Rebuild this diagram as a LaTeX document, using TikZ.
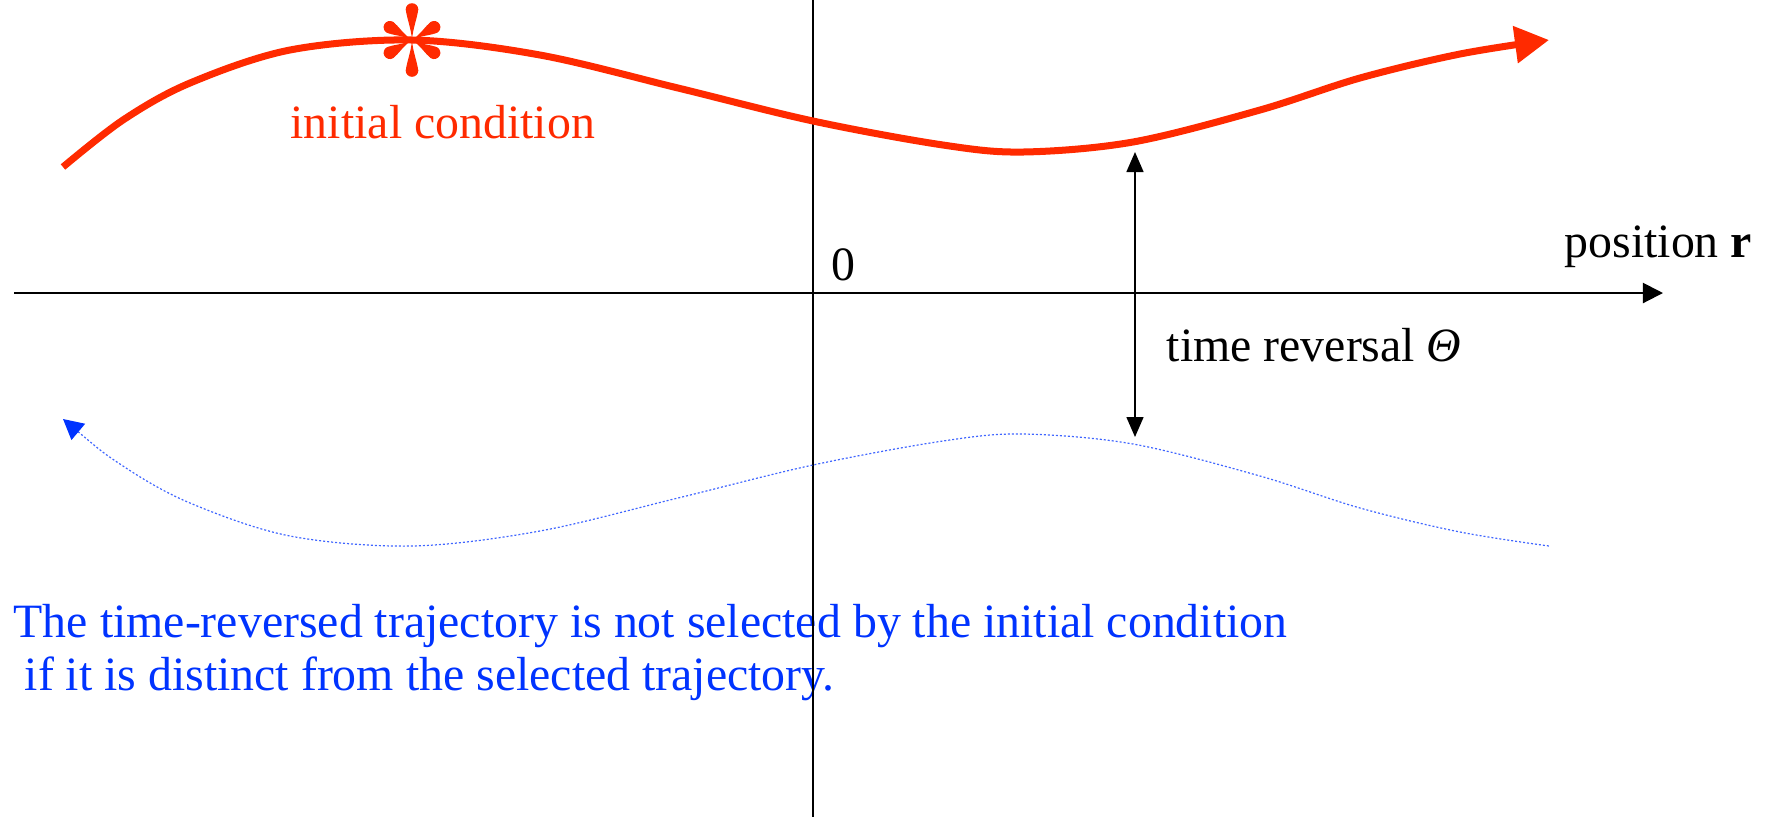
\documentclass[tikz,border=0pt]{standalone}
\usepackage{fontspec}
\setmainfont{Liberation Serif}
\usetikzlibrary{arrows.meta}
\definecolor{trajred}{RGB}{255,42,0}
\definecolor{trajblue}{RGB}{0,51,255}
\begin{document}
\begin{tikzpicture}[x=0.01cm,y=-0.01cm,
  lbl/.style={inner sep=0pt, anchor=base west, font=\fontsize{13.6}{16}\selectfont},
  axisline/.style={line width=0.02cm, black},
  axistip/.style={-{Triangle[length=0.2cm,width=0.2cm]}},
  redtraj/.style={line width=0.07cm, trajred, -{Triangle[length=0.34cm,width=0.36cm]}},
  bluetraj/.style={line width=0.012cm, trajblue!75, dash pattern=on 0.02cm off 0.02cm,
     {Triangle[length=0.2cm,width=0.21cm,fill=trajblue,color=trajblue]}-},
  revarrow/.style={line width=0.015cm, black,
     {Triangle[length=0.2cm,width=0.17cm]}-{Triangle[length=0.2cm,width=0.17cm]}}
]
\useasboundingbox (0,0) rectangle (1771,817);

% blue caption (drawn first so the vertical axis lies over it)
\node[lbl, text=trajblue] (cap1) at (13,637) {The time-reversed trajectory is not selected by the initial condition};
\node[lbl, text=trajblue] (cap2) at (24,690) {if it is distinct from the selected trajectory.};

% axes
\coordinate (xl) at (14,293);
\coordinate (xr) at (1663,293);
\coordinate (yt) at (813,0);
\coordinate (yb) at (813,817);
\draw[axisline, axistip] (xl) -- (xr);
\draw[axisline] (yt) -- (yb);

% selected trajectory
\def\trajpts{(63,167) (123,120) (190,83) (290,50) (412,40) (540,55) (678,88) (813,121) (943,145) (1023,152) (1133,142) (1260,110) (1360,78) (1460,54) (1549,40)}
\draw[redtraj] plot[smooth, tension=0.55] coordinates {\trajpts};

% time-reversed trajectory (mirror about the r axis)
\begin{scope}[shift={(0,586)}, yscale=-1]
  \draw[bluetraj] plot[smooth, tension=0.55] coordinates {\trajpts};
\end{scope}

% initial condition asterisk
\coordinate (star) at (412,40);
\foreach \a/\L in {90/37,30/32,-30/32,-90/37,-150/32,150/32}{
  \begin{scope}[shift={(star)}, rotate=\a]
    \pgfmathsetmacro\Lb{\L-6.5}
    \pgfmathsetmacro\Lc{\L-13}
    \fill[trajred] (0,0) .. controls (12,0.8) and (\Lc,6) .. (\Lb,6)
       -- (\Lb,-6) .. controls (\Lc,-6) and (12,-0.8) .. (0,0) -- cycle;
    \fill[trajred] (\Lb,0) circle[radius=0.063cm];
  \end{scope}
}

% labels
\node[lbl, text=trajred] (ic) at (290,138) {initial condition};
\node[lbl] (zero) at (831,280) {0};
\node[lbl] (pos) at (1564,257) {position \textbf{r}};
\node[lbl] (tr) at (1166,361) {time reversal \textit{Θ}};

% time reversal double arrow
\coordinate (ta) at (1135,152);
\coordinate (tb) at (1135,437);
\draw[revarrow] (ta) -- (tb);
\end{tikzpicture}
\end{document}
